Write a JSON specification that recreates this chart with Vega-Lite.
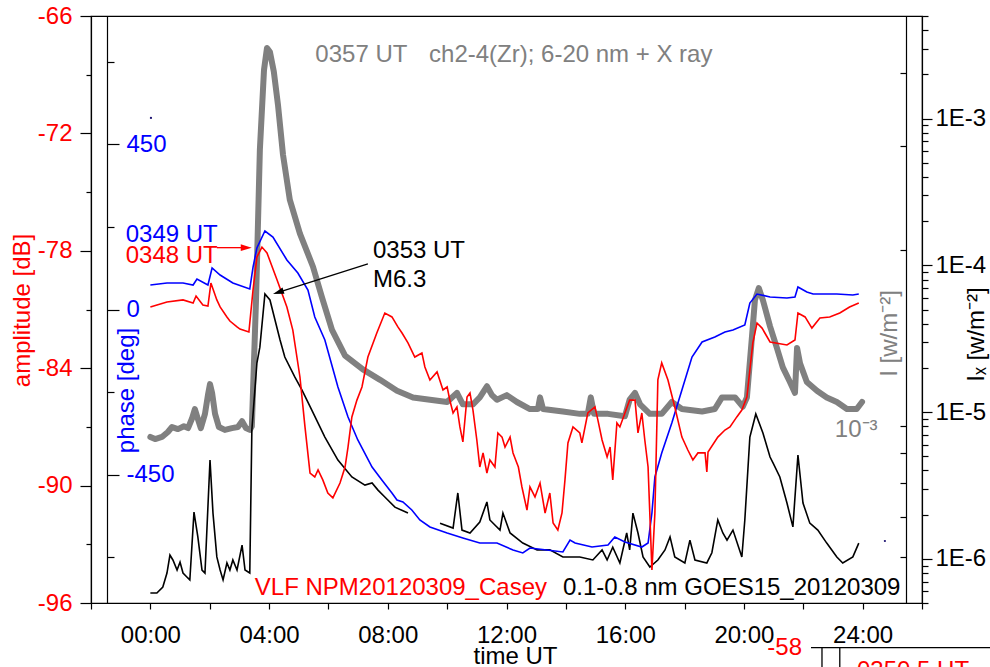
{
  "$schema": "https://vega.github.io/schema/vega-lite/v6.json",
  "width": 831,
  "height": 587,
  "autosize": {"type": "none"},
  "padding": {"left": 91, "top": 16, "right": 68, "bottom": 64},
  "background": "white",
  "config": {
    "font": "Liberation Sans",
    "view": {"stroke": "black", "strokeWidth": 1.2},
    "axis": {
      "labelFont": "Liberation Sans",
      "titleFont": "Liberation Sans",
      "labelFontSize": 24,
      "titleFontSize": 24,
      "titleFontWeight": "normal",
      "labelOverlap": false,
      "labelFlush": false,
      "labelBound": false,
      "grid": false,
      "domainColor": "black",
      "domainWidth": 1.2,
      "tickColor": "black",
      "tickWidth": 1.2,
      "labelColor": "black",
      "titleColor": "black"
    }
  },
  "datasets": {
    "vlf": [
      {"h":0.00,"amp":-80.87},{"h":0.56,"amp":-80.62},{"h":1.10,"amp":-80.51},{"h":1.44,"amp":-80.67},{"h":1.54,"amp":-80.31},{"h":1.77,"amp":-80.77},{"h":1.94,"amp":-80.82},{"h":2.04,"amp":-79.65},{"h":2.24,"amp":-80.51},{"h":2.35,"amp":-80.87},{"h":2.58,"amp":-81.38},{"h":2.68,"amp":-81.59},{"h":2.92,"amp":-81.89},{"h":3.02,"amp":-82.00},{"h":3.32,"amp":-82.15},{"h":3.46,"amp":-80.00},{"h":3.59,"amp":-78.32},{"h":3.76,"amp":-77.81},{"h":3.93,"amp":-78.11},{"h":4.27,"amp":-79.49},{"h":4.60,"amp":-80.87},{"h":4.80,"amp":-82.05},{"h":5.04,"amp":-84.45},{"h":5.21,"amp":-87.00},{"h":5.38,"amp":-89.36},{"h":5.54,"amp":-89.56},{"h":5.65,"amp":-89.20},{"h":5.81,"amp":-89.71},{"h":5.98,"amp":-90.38},{"h":6.15,"amp":-90.63},{"h":6.39,"amp":-89.87},{"h":6.56,"amp":-89.05},{"h":6.66,"amp":-88.03},{"h":6.79,"amp":-86.49},{"h":6.96,"amp":-85.63},{"h":7.13,"amp":-84.96},{"h":7.33,"amp":-83.43},{"h":7.63,"amp":-82.20},{"h":7.90,"amp":-81.18},{"h":8.14,"amp":-81.38},{"h":8.34,"amp":-81.89},{"h":8.48,"amp":-82.20},{"h":8.68,"amp":-82.71},{"h":8.91,"amp":-83.43},{"h":9.15,"amp":-83.22},{"h":9.25,"amp":-83.94},{"h":9.42,"amp":-84.60},{"h":9.66,"amp":-84.19},{"h":9.86,"amp":-85.11},{"h":10.00,"amp":-84.96},{"h":10.09,"amp":-85.63},{"h":10.20,"amp":-86.29},{"h":10.33,"amp":-85.98},{"h":10.43,"amp":-87.00},{"h":10.53,"amp":-87.77},{"h":10.67,"amp":-85.47},{"h":10.77,"amp":-85.27},{"h":10.87,"amp":-86.14},{"h":11.00,"amp":-87.67},{"h":11.10,"amp":-89.05},{"h":11.21,"amp":-88.33},{"h":11.34,"amp":-89.36},{"h":11.44,"amp":-88.69},{"h":11.61,"amp":-89.05},{"h":11.71,"amp":-87.31},{"h":11.85,"amp":-87.52},{"h":11.95,"amp":-88.03},{"h":12.12,"amp":-87.52},{"h":12.22,"amp":-88.33},{"h":12.40,"amp":-89.05},{"h":12.52,"amp":-90.07},{"h":12.69,"amp":-91.25},{"h":12.79,"amp":-90.07},{"h":12.96,"amp":-90.58},{"h":13.13,"amp":-89.87},{"h":13.30,"amp":-91.40},{"h":13.46,"amp":-90.38},{"h":13.57,"amp":-91.91},{"h":13.73,"amp":-92.27},{"h":13.87,"amp":-91.40},{"h":13.97,"amp":-89.71},{"h":14.07,"amp":-87.82},{"h":14.24,"amp":-87.00},{"h":14.47,"amp":-87.31},{"h":14.54,"amp":-87.82},{"h":14.74,"amp":-86.29},{"h":14.98,"amp":-85.98},{"h":15.08,"amp":-86.65},{"h":15.22,"amp":-87.67},{"h":15.39,"amp":-88.54},{"h":15.49,"amp":-88.03},{"h":15.58,"amp":-89.71},{"h":15.72,"amp":-86.80},{"h":15.82,"amp":-87.00},{"h":15.99,"amp":-86.29},{"h":16.15,"amp":-85.63},{"h":16.33,"amp":-85.63},{"h":16.43,"amp":-87.31},{"h":16.56,"amp":-86.29},{"h":16.66,"amp":-87.67},{"h":16.77,"amp":-89.05},{"h":16.90,"amp":-94.31},{"h":17.00,"amp":-91.40},{"h":17.10,"amp":-84.60},{"h":17.23,"amp":-83.73},{"h":17.44,"amp":-84.60},{"h":17.67,"amp":-85.98},{"h":17.91,"amp":-87.52},{"h":18.11,"amp":-88.18},{"h":18.28,"amp":-88.69},{"h":18.45,"amp":-88.33},{"h":18.69,"amp":-88.33},{"h":18.75,"amp":-89.30},{"h":18.79,"amp":-88.28},{"h":19.12,"amp":-87.52},{"h":19.36,"amp":-87.16},{"h":19.53,"amp":-87.00},{"h":19.76,"amp":-86.49},{"h":19.93,"amp":-86.14},{"h":20.10,"amp":-85.47},{"h":20.30,"amp":-82.71},{"h":20.44,"amp":-81.69},{"h":20.61,"amp":-81.95},{"h":20.88,"amp":-82.66},{"h":21.45,"amp":-82.81},{"h":21.72,"amp":-82.56},{"h":21.82,"amp":-81.18},{"h":22.06,"amp":-81.38},{"h":22.29,"amp":-81.95},{"h":22.56,"amp":-81.43},{"h":22.89,"amp":-81.38},{"h":23.23,"amp":-81.18},{"h":23.56,"amp":-80.87},{"h":23.87,"amp":-80.67}
    ],
    "phase": [
      {"h":0.00,"ph":66.8},{"h":0.56,"ph":72.2},{"h":1.10,"ph":72.2},{"h":1.44,"ph":66.8},{"h":1.57,"ph":83.1},{"h":1.94,"ph":66.8},{"h":2.08,"ph":113.1},{"h":2.35,"ph":94.0},{"h":2.78,"ph":72.2},{"h":3.35,"ph":55.9},{"h":3.46,"ph":115.8},{"h":3.59,"ph":167.6},{"h":3.86,"ph":214.0},{"h":4.13,"ph":197.6},{"h":4.60,"ph":134.9},{"h":4.97,"ph":99.5},{"h":5.31,"ph":53.2},{"h":5.54,"ph":-20.4},{"h":5.88,"ph":-83.1},{"h":6.32,"ph":-211.2},{"h":6.66,"ph":-293.0},{"h":6.99,"ph":-355.7},{"h":7.47,"ph":-429.3},{"h":7.80,"ph":-464.7},{"h":8.14,"ph":-500.2},{"h":8.31,"ph":-519.2},{"h":8.51,"ph":-524.7},{"h":8.81,"ph":-546.5},{"h":9.08,"ph":-573.8},{"h":9.42,"ph":-592.8},{"h":10.00,"ph":-609.2},{"h":10.53,"ph":-622.8},{"h":11.10,"ph":-636.4},{"h":11.68,"ph":-636.4},{"h":12.22,"ph":-655.5},{"h":12.55,"ph":-663.7},{"h":12.79,"ph":-650.1},{"h":13.36,"ph":-655.5},{"h":13.90,"ph":-661.0},{"h":14.14,"ph":-628.3},{"h":14.31,"ph":-636.4},{"h":14.88,"ph":-647.4},{"h":15.42,"ph":-641.9},{"h":15.65,"ph":-620.1},{"h":15.99,"ph":-633.7},{"h":16.56,"ph":-647.4},{"h":16.77,"ph":-636.4},{"h":16.90,"ph":-554.7},{"h":17.00,"ph":-456.6},{"h":17.23,"ph":-391.1},{"h":17.57,"ph":-309.4},{"h":17.91,"ph":-219.4},{"h":18.25,"ph":-129.5},{"h":18.59,"ph":-88.6},{"h":19.02,"ph":-75.0},{"h":19.36,"ph":-61.3},{"h":19.63,"ph":-55.9},{"h":20.03,"ph":-42.2},{"h":20.20,"ph":17.7},{"h":20.44,"ph":42.2},{"h":20.88,"ph":34.1},{"h":21.45,"ph":31.3},{"h":21.72,"ph":34.1},{"h":21.82,"ph":61.3},{"h":22.12,"ph":47.7},{"h":22.33,"ph":42.2},{"h":23.13,"ph":42.2},{"h":23.67,"ph":39.5},{"h":23.87,"ph":42.2}
    ],
    "dots": [
      {"h":0.02,"ph":522},
      {"h":24.75,"ph":-631}
    ],
    "goes": [
      {"seg":"a","h":0.00,"xr":5.85e-7},{"seg":"a","h":0.22,"xr":5.85e-7},{"seg":"a","h":0.42,"xr":6.43e-7},{"seg":"a","h":0.56,"xr":8.00e-7},{"seg":"a","h":0.66,"xr":1.06e-6},{"seg":"a","h":0.76,"xr":9.82e-7},{"seg":"a","h":0.90,"xr":8.39e-7},{"seg":"a","h":1.00,"xr":9.51e-7},{"seg":"a","h":1.10,"xr":8.00e-7},{"seg":"a","h":1.23,"xr":7.52e-7},{"seg":"a","h":1.33,"xr":7.18e-7},{"seg":"a","h":1.47,"xr":2.08e-6},{"seg":"a","h":1.60,"xr":1.41e-6},{"seg":"a","h":1.74,"xr":8.39e-7},{"seg":"a","h":1.84,"xr":8.00e-7},{"seg":"a","h":2.01,"xr":4.71e-6},{"seg":"a","h":2.11,"xr":2.05e-6},{"seg":"a","h":2.24,"xr":1.03e-6},{"seg":"a","h":2.35,"xr":8.39e-7},{"seg":"a","h":2.45,"xr":7.18e-7},{"seg":"a","h":2.58,"xr":9.37e-7},{"seg":"a","h":2.68,"xr":8.39e-7},{"seg":"a","h":2.78,"xr":9.82e-7},{"seg":"a","h":2.92,"xr":8.39e-7},{"seg":"a","h":3.09,"xr":1.24e-6},{"seg":"a","h":3.19,"xr":8.39e-7},{"seg":"a","h":3.35,"xr":8.00e-7},{"seg":"a","h":3.42,"xr":7.55e-6},{"seg":"a","h":3.59,"xr":2.16e-5},{"seg":"a","h":3.69,"xr":2.77e-5},{"seg":"a","h":3.86,"xr":6.38e-5},{"seg":"a","h":4.03,"xr":5.81e-5},{"seg":"a","h":4.20,"xr":4.24e-5},{"seg":"a","h":4.37,"xr":3.10e-5},{"seg":"a","h":4.53,"xr":2.37e-5},{"seg":"a","h":4.87,"xr":1.73e-5},{"seg":"a","h":5.11,"xr":1.41e-5},{"seg":"a","h":5.44,"xr":1.03e-5},{"seg":"a","h":5.88,"xr":6.76e-6},{"seg":"a","h":6.32,"xr":4.71e-6},{"seg":"a","h":6.79,"xr":3.61e-6},{"seg":"a","h":7.23,"xr":3.18e-6},{"seg":"a","h":7.47,"xr":3.29e-6},{"seg":"a","h":7.67,"xr":2.94e-6},{"seg":"a","h":7.90,"xr":2.64e-6},{"seg":"a","h":8.24,"xr":2.25e-6},{"seg":"a","h":8.68,"xr":2.05e-6},
      {"seg":"b","h":9.76,"xr":1.75e-6},{"seg":"b","h":10.20,"xr":1.62e-6},{"seg":"b","h":10.36,"xr":2.81e-6},{"seg":"b","h":10.50,"xr":1.57e-6},{"seg":"b","h":10.77,"xr":1.50e-6},{"seg":"b","h":11.10,"xr":1.78e-6},{"seg":"b","h":11.34,"xr":2.44e-6},{"seg":"b","h":11.44,"xr":1.84e-6},{"seg":"b","h":11.78,"xr":1.57e-6},{"seg":"b","h":11.88,"xr":2.05e-6},{"seg":"b","h":12.12,"xr":1.50e-6},{"seg":"b","h":12.55,"xr":1.28e-6},{"seg":"b","h":13.03,"xr":1.15e-6},{"seg":"b","h":13.46,"xr":1.15e-6},{"seg":"b","h":13.90,"xr":1.03e-6},{"seg":"b","h":14.47,"xr":1.03e-6},{"seg":"b","h":14.91,"xr":9.82e-7},{"seg":"b","h":15.22,"xr":1.15e-6},{"seg":"b","h":15.39,"xr":9.82e-7},{"seg":"b","h":15.58,"xr":1.20e-6},{"seg":"b","h":15.82,"xr":9.37e-7},{"seg":"b","h":16.05,"xr":1.50e-6},{"seg":"b","h":16.15,"xr":1.15e-6},{"seg":"b","h":16.26,"xr":2.05e-6},{"seg":"b","h":16.43,"xr":1.50e-6},{"seg":"b","h":16.60,"xr":1.03e-6},{"seg":"b","h":16.83,"xr":8.79e-7},{"seg":"b","h":17.10,"xr":9.82e-7},{"seg":"b","h":17.34,"xr":1.15e-6},{"seg":"b","h":17.51,"xr":1.41e-6},{"seg":"b","h":17.67,"xr":1.03e-6},{"seg":"b","h":18.01,"xr":9.37e-7},{"seg":"b","h":18.18,"xr":1.34e-6},{"seg":"b","h":18.35,"xr":9.82e-7},{"seg":"b","h":18.75,"xr":9.37e-7},{"seg":"b","h":18.92,"xr":1.10e-6},{"seg":"b","h":19.12,"xr":1.84e-6},{"seg":"b","h":19.29,"xr":1.50e-6},{"seg":"b","h":19.43,"xr":1.34e-6},{"seg":"b","h":19.63,"xr":1.57e-6},{"seg":"b","h":19.93,"xr":1.03e-6},{"seg":"b","h":20.03,"xr":1.84e-6},{"seg":"b","h":20.20,"xr":6.76e-6},{"seg":"b","h":20.40,"xr":9.70e-6},{"seg":"b","h":20.64,"xr":7.20e-6},{"seg":"b","h":20.88,"xr":4.94e-6},{"seg":"b","h":20.98,"xr":4.50e-6},{"seg":"b","h":21.21,"xr":3.61e-6},{"seg":"b","h":21.45,"xr":2.40e-6},{"seg":"b","h":21.65,"xr":1.65e-6},{"seg":"b","h":21.82,"xr":5.10e-6},{"seg":"b","h":21.99,"xr":2.40e-6},{"seg":"b","h":22.22,"xr":1.75e-6},{"seg":"b","h":22.49,"xr":1.57e-6},{"seg":"b","h":22.79,"xr":1.28e-6},{"seg":"b","h":23.13,"xr":1.03e-6},{"seg":"b","h":23.33,"xr":9.37e-7},{"seg":"b","h":23.67,"xr":1.03e-6},{"seg":"b","h":23.87,"xr":1.28e-6}
    ],
    "euv": [
      {"h":0.00,"euv":9.59e-4},{"h":0.16,"euv":9.51e-4},{"h":0.39,"euv":9.59e-4},{"h":0.59,"euv":9.78e-4},{"h":0.73,"euv":9.97e-4},{"h":0.93,"euv":9.89e-4},{"h":1.13,"euv":1.00e-3},{"h":1.27,"euv":9.93e-4},{"h":1.40,"euv":1.03e-3},{"h":1.50,"euv":1.07e-3},{"h":1.60,"euv":1.03e-3},{"h":1.70,"euv":9.93e-4},{"h":1.84,"euv":1.05e-3},{"h":1.94,"euv":1.13e-3},{"h":2.01,"euv":1.18e-3},{"h":2.08,"euv":1.14e-3},{"h":2.18,"euv":1.05e-3},{"h":2.31,"euv":9.97e-4},{"h":2.51,"euv":9.86e-4},{"h":2.75,"euv":9.93e-4},{"h":2.95,"euv":9.97e-4},{"h":3.09,"euv":1.02e-3},{"h":3.22,"euv":9.93e-4},{"h":3.35,"euv":9.86e-4},{"h":3.42,"euv":1.00e-3},{"h":3.56,"euv":1.64e-3},{"h":3.69,"euv":2.96e-3},{"h":3.83,"euv":4.05e-3},{"h":3.93,"euv":4.41e-3},{"h":4.03,"euv":4.34e-3},{"h":4.16,"euv":4.02e-3},{"h":4.30,"euv":3.53e-3},{"h":4.47,"euv":2.90e-3},{"h":4.70,"euv":2.43e-3},{"h":5.04,"euv":2.13e-3},{"h":5.48,"euv":1.87e-3},{"h":5.78,"euv":1.66e-3},{"h":6.12,"euv":1.46e-3},{"h":6.56,"euv":1.32e-3},{"h":7.16,"euv":1.25e-3},{"h":7.74,"euv":1.20e-3},{"h":8.31,"euv":1.15e-3},{"h":8.85,"euv":1.12e-3},{"h":9.42,"euv":1.11e-3},{"h":10.00,"euv":1.10e-3},{"h":10.33,"euv":1.14e-3},{"h":10.53,"euv":1.09e-3},{"h":10.87,"euv":1.09e-3},{"h":11.10,"euv":1.12e-3},{"h":11.34,"euv":1.17e-3},{"h":11.51,"euv":1.13e-3},{"h":11.68,"euv":1.11e-3},{"h":12.01,"euv":1.13e-3},{"h":12.35,"euv":1.10e-3},{"h":12.79,"euv":1.07e-3},{"h":13.06,"euv":1.07e-3},{"h":13.13,"euv":1.12e-3},{"h":13.23,"euv":1.07e-3},{"h":13.90,"euv":1.06e-3},{"h":14.47,"euv":1.05e-3},{"h":14.74,"euv":1.05e-3},{"h":14.84,"euv":1.12e-3},{"h":14.95,"euv":1.05e-3},{"h":15.42,"euv":1.05e-3},{"h":15.99,"euv":1.04e-3},{"h":16.15,"euv":1.11e-3},{"h":16.33,"euv":1.14e-3},{"h":16.50,"euv":1.09e-3},{"h":16.83,"euv":1.05e-3},{"h":17.23,"euv":1.05e-3},{"h":17.57,"euv":1.10e-3},{"h":17.91,"euv":1.07e-3},{"h":18.59,"euv":1.06e-3},{"h":19.02,"euv":1.07e-3},{"h":19.26,"euv":1.12e-3},{"h":19.53,"euv":1.12e-3},{"h":19.70,"euv":1.12e-3},{"h":19.96,"euv":1.08e-3},{"h":20.10,"euv":1.12e-3},{"h":20.27,"euv":1.42e-3},{"h":20.37,"euv":1.64e-3},{"h":20.50,"euv":1.72e-3},{"h":20.64,"euv":1.64e-3},{"h":20.88,"euv":1.48e-3},{"h":21.11,"euv":1.36e-3},{"h":21.31,"euv":1.26e-3},{"h":21.55,"euv":1.19e-3},{"h":21.72,"euv":1.14e-3},{"h":21.79,"euv":1.36e-3},{"h":21.89,"euv":1.28e-3},{"h":22.12,"euv":1.19e-3},{"h":22.46,"euv":1.15e-3},{"h":22.79,"euv":1.12e-3},{"h":23.13,"euv":1.10e-3},{"h":23.47,"euv":1.07e-3},{"h":23.80,"euv":1.07e-3},{"h":23.98,"euv":1.10e-3}
    ],
    "notes": [
      {"h":5.56,"amp":-68.33,"t":"0357 UT","c":"euv"},
      {"h":9.39,"amp":-68.33,"t":"ch2-4(Zr); 6-20 nm + X ray","c":"euv"},
      {"h":-0.83,"amp":-77.53,"t":"0349 UT","c":"phase"},
      {"h":-0.83,"amp":-78.64,"t":"0348 UT","c":"vlf"},
      {"h":7.50,"amp":-78.38,"t":"0353 UT","c":"goes"},
      {"h":7.50,"amp":-79.87,"t":"M6.3","c":"goes"},
      {"h":3.52,"amp":-95.61,"t":"VLF NPM20120309_Casey","c":"vlf"},
      {"h":13.90,"amp":-95.61,"t":"0.1-0.8 nm GOES15_20120309","c":"goes"},
      {"h":20.79,"amp":-98.66,"t":"-58","c":"vlf"},
      {"h":23.81,"amp":-99.83,"t":"0350.5 UT","c":"vlf"}
    ],
    "arrows": [
      {"h":2.24,"h2":3.23,"amp":-77.84,"amp2":-77.84,"c":"vlf"},
      {"h":7.33,"h2":4.31,"amp":-78.67,"amp2":-80.12,"c":"goes"},
      {"h":22.26,"h2":28.3,"amp":-98.28,"amp2":-98.28,"c":"goes"},
      {"h":22.63,"h2":22.63,"amp":-98.28,"amp2":-99.6,"c":"goes"},
      {"h":23.23,"h2":23.23,"amp":-98.28,"amp2":-99.6,"c":"goes"}
    ],
    "heads": [
      {"h":3.23,"amp":-77.84,"c":"vlf"},
      {"h":4.31,"amp":-80.12,"c":"goes"}
    ]
  },
  "encoding": {
    "x": {
      "field": "h",
      "type": "quantitative",
      "scale": {"domain": [-2, 26], "nice": false, "zero": false},
      "axis": {
        "values": [-2, 0, 2, 4, 6, 8, 10, 12, 14, 16, 18, 20, 22, 24, 26],
        "tickSize": 6,
        "labelExpr": "datum.value >= 0 && datum.value <= 24 && datum.value % 4 == 0 ? (datum.value < 10 ? '0' : '') + datum.value + ':00' : ''",
        "labelBaseline": "alphabetic",
        "labelPadding": 33,
        "title": "time UT",
        "titleBaseline": "alphabetic",
        "titleX": 424,
        "titleY": 60
      }
    }
  },
  "layer": [
    {
      "data": {"name": "euv"},
      "mark": {"type": "line", "color": "#808080", "strokeWidth": 6, "strokeCap": "round", "strokeJoin": "round"},
      "encoding": {
        "y": {
          "field": "euv",
          "type": "quantitative",
          "scale": {"type": "log", "domain": [0.0005, 0.005], "nice": false},
          "axis": {
            "orient": "left",
            "offset": -815,
            "values": [0.0006, 0.0007, 0.0008, 0.0009, 0.001, 0.002, 0.003, 0.004],
            "labelExpr": "abs(datum.value - 0.001) < 0.000001 ? '10⁻³' : ''",
            "tickSize": 6,
            "labelPadding": 23,
            "labelOffset": 3,
            "labelColor": "#808080",
            "title": "I [w/m⁻²]",
            "titleColor": "#808080",
            "titleAngle": 270,
            "titleBaseline": "middle",
            "titleAlign": "center",
            "titleX": -17,
            "titleY": 317
          }
        }
      }
    },
    {
      "data": {"name": "goes"},
      "mark": {"type": "line", "color": "black", "strokeWidth": 1.6},
      "encoding": {
        "detail": {"field": "seg"},
        "y": {
          "field": "xr",
          "type": "quantitative",
          "scale": {"type": "log", "domain": [5e-7, 0.005], "nice": false},
          "axis": {
            "orient": "right",
            "values": [5e-7, 6e-7, 7e-7, 8e-7, 9e-7, 1e-6, 2e-6, 3e-6, 4e-6, 5e-6, 6e-6, 7e-6, 8e-6, 9e-6, 1e-5, 2e-5, 3e-5, 4e-5, 5e-5, 6e-5, 7e-5, 8e-5, 9e-5, 0.0001, 0.0002, 0.0003, 0.0004, 0.0005, 0.0006, 0.0007, 0.0008, 0.0009, 0.001, 0.002, 0.003, 0.004, 0.005],
            "labelExpr": "abs(log(datum.value) / LN10 - round(log(datum.value) / LN10)) < 0.01 ? '1E' + round(log(datum.value) / LN10) : ''",
            "tickSize": {"condition": {"test": "abs(log(datum.value) / LN10 - round(log(datum.value) / LN10)) < 0.01", "value": 10}, "value": 6},
            "labelPadding": 3,
            "labelAlign": "left",
            "title": "Iₓ [w/m⁻²]",
            "titleAngle": 270,
            "titleBaseline": "middle",
            "titleAlign": "center",
            "titleX": 54,
            "titleY": 318
          }
        }
      }
    },
    {
      "encoding": {
        "y": {
          "field": "ph",
          "type": "quantitative",
          "scale": {"domain": [-800, 800], "nice": false, "zero": false},
          "axis": {
            "orient": "right",
            "offset": -815,
            "values": [-675, -450, -225, 0, 225, 450, 675],
            "labelExpr": "datum.value % 450 == 0 ? datum.value : ''",
            "tickSize": {"condition": {"test": "datum.value % 450 == 0", "value": 12}, "value": 7},
            "labelPadding": 7,
            "labelAlign": "left",
            "labelColor": "blue",
            "title": "phase [deg]",
            "titleColor": "blue",
            "titleAngle": 270,
            "titleBaseline": "middle",
            "titleAlign": "center",
            "titleX": 19,
            "titleY": 374
          }
        }
      },
      "layer": [
        {
          "data": {"name": "phase"},
          "mark": {"type": "line", "color": "blue", "strokeWidth": 1.6}
        },
        {
          "data": {"name": "dots"},
          "mark": {"type": "circle", "color": "#1a1070", "size": 5, "opacity": 1}
        }
      ]
    },
    {
      "encoding": {
        "y": {
          "field": "amp",
          "type": "quantitative",
          "scale": {"domain": [-96, -66], "nice": false, "zero": false},
          "axis": {
            "orient": "left",
            "values": [-96, -93, -90, -87, -84, -81, -78, -75, -72, -69, -66],
            "labelExpr": "datum.value % 6 == 0 ? datum.value : ''",
            "tickSize": {"condition": {"test": "datum.value % 6 == 0", "value": 11}, "value": 5},
            "labelPadding": 8,
            "labelColor": "red",
            "title": "amplitude [dB]",
            "titleColor": "red",
            "titleAngle": 270,
            "titleBaseline": "middle",
            "titleAlign": "center",
            "titleX": -69,
            "titleY": 294
          }
        }
      },
      "layer": [
        {
          "data": {"name": "vlf"},
          "mark": {"type": "line", "color": "red", "strokeWidth": 1.6}
        },
        {
          "data": {"name": "arrows"},
          "mark": {"type": "rule", "strokeWidth": 1.3},
          "encoding": {
            "x2": {"field": "h2"},
            "y2": {"field": "amp2"},
            "color": {"field": "c", "type": "nominal", "scale": {"domain": ["vlf", "phase", "goes", "euv"], "range": ["#ff0000", "#0000ff", "#000000", "#808080"]}, "legend": null}
          }
        },
        {
          "data": {"name": "heads"},
          "transform": [{"filter": "datum.c == 'vlf'"}],
          "mark": {"type": "point", "shape": "M-1,-0.6L1,0L-1,0.6Z", "filled": true, "size": 121, "angle": 0, "color": "red", "opacity": 1, "strokeWidth": 0}
        },
        {
          "data": {"name": "heads"},
          "transform": [{"filter": "datum.c == 'goes'"}],
          "mark": {"type": "point", "shape": "M-1,-0.6L1,0L-1,0.6Z", "filled": true, "size": 121, "angle": 162.5, "color": "black", "opacity": 1, "strokeWidth": 0}
        },
        {
          "data": {"name": "notes"},
          "mark": {"type": "text", "align": "left", "baseline": "alphabetic", "fontSize": 24, "font": "Liberation Sans"},
          "encoding": {
            "text": {"field": "t"},
            "color": {"field": "c", "type": "nominal", "scale": {"domain": ["vlf", "phase", "goes", "euv"], "range": ["#ff0000", "#0000ff", "#000000", "#808080"]}, "legend": null}
          }
        }
      ]
    }
  ],
  "resolve": {"scale": {"y": "independent"}, "axis": {"y": "independent"}}
}
